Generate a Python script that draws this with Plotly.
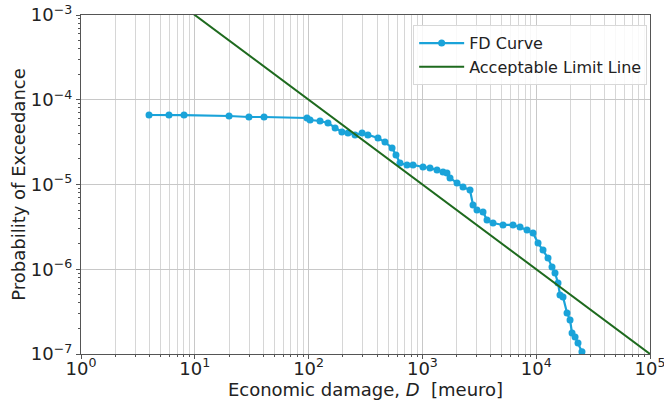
import plotly.graph_objects as go

# FD curve (economic damage [meuro], probability of exceedance)
fd_damage = [3.96, 5.93, 8.04, 20.0, 29.9, 40.6, 96.8, 103, 126, 148, 171, 196, 222, 256, 295,
             332, 407, 469, 541, 586, 635, 732, 827, 1012, 1166, 1344, 1517, 1644, 1749, 2015,
             2275, 2620, 2785, 3018, 3410, 3698, 4172, 5108, 6252, 7208, 8300, 9378, 10380,
             11480, 12700, 13770, 14630, 15550, 16190, 17210, 18660, 19830, 20650, 21950,
             23300, 25240, 27400]
fd_prob = [6.61e-5, 6.6e-5, 6.6e-5, 6.43e-5, 6.26e-5, 6.26e-5, 6.09e-5, 5.77e-5, 5.61e-5,
           5.32e-5, 4.64e-5, 4.16e-5, 4.05e-5, 3.84e-5, 4.05e-5, 3.84e-5, 3.54e-5, 3.17e-5,
           2.70e-5, 2.23e-5, 1.79e-5, 1.70e-5, 1.70e-5, 1.61e-5, 1.57e-5, 1.48e-5, 1.40e-5,
           1.37e-5, 1.19e-5, 1.04e-5, 9.34e-6, 8.61e-6, 5.73e-6, 5.00e-6, 4.74e-6, 3.81e-6,
           3.51e-6, 3.33e-6, 3.33e-6, 3.15e-6, 2.91e-6, 2.68e-6, 2.04e-6, 1.69e-6, 1.36e-6,
           1.06e-6, 9.04e-7, 6.89e-7, 4.97e-7, 4.71e-7, 3.05e-7, 2.52e-7, 1.77e-7, 1.59e-7,
           1.35e-7, 1.06e-7, 7.5e-8]

# Acceptable limit line: P = 0.01 / D
limit_damage = [1, 1e5]
limit_prob = [1e-2, 1e-7]

x_ticks = [1, 10, 100, 1000, 10000, 100000]
x_labels = ["10<sup>0</sup>", "10<sup>1</sup>", "10<sup>2</sup>", "10<sup>3</sup>",
            "10<sup>4</sup>", "10<sup>5</sup>"]
y_ticks = [1e-7, 1e-6, 1e-5, 1e-4, 1e-3]
y_labels = ["10<sup>−7</sup>", "10<sup>−6</sup>", "10<sup>−5</sup>", "10<sup>−4</sup>",
            "10<sup>−3</sup>"]

x_minor = [m * 10 ** e for e in range(0, 5) for m in range(2, 10)]
y_minor = [m * 10.0 ** e for e in range(-7, -3) for m in range(2, 10)]

font = "DejaVu Sans, sans-serif"
axis_col = "#555555"

fig = go.Figure()
fig.add_trace(go.Scatter(
    x=fd_damage, y=fd_prob, mode="lines+markers", name="FD Curve",
    line=dict(color="#1aa3d9", width=2.2),
    marker=dict(color="#1aa3d9", size=7),
))
fig.add_trace(go.Scatter(
    x=limit_damage, y=limit_prob, mode="lines", name="Acceptable Limit Line",
    line=dict(color="#1e6a1e", width=2),
))

fig.update_layout(
    width=664, height=404,
    margin=dict(l=81, r=14, t=15, b=50, autoexpand=False),
    paper_bgcolor="white", plot_bgcolor="white",
    font=dict(family=font, size=16, color="#222222"),
    showlegend=True,
    legend=dict(x=0.995, y=0.97, xanchor="right", yanchor="top",
                bgcolor="rgba(255,255,255,0.85)", bordercolor="#d8d8d8", borderwidth=1,
                font=dict(size=16), tracegroupgap=0, itemwidth=45),
)
fig.update_xaxes(
    type="log", range=[0, 5], tickvals=x_ticks, ticktext=x_labels,
    showgrid=True, gridcolor="#c8c8c8", gridwidth=1,
    minor=dict(tickvals=x_minor, showgrid=True, gridcolor="#d6d6d6", gridwidth=1,
               ticks="outside", ticklen=2, tickcolor=axis_col),
    ticks="outside", ticklen=4, tickcolor=axis_col,
    showline=True, linecolor=axis_col, linewidth=1.3, mirror=True,
    tickfont=dict(size=18), automargin=False, ticklabeloverflow="allow",
    ticklabelstandoff=-6,
    title=dict(text="Economic damage, <i>D</i>  [meuro]", font=dict(size=18), standoff=0),
    zeroline=False,
)
fig.update_yaxes(
    type="log", range=[-7, -3], tickvals=y_ticks, ticktext=y_labels,
    showgrid=True, gridcolor="#c8c8c8", gridwidth=1,
    minor=dict(tickvals=y_minor, showgrid=False, ticks="outside", ticklen=2, tickcolor=axis_col),
    ticks="outside", ticklen=4, tickcolor=axis_col,
    showline=True, linecolor=axis_col, linewidth=1.3, mirror=True,
    tickfont=dict(size=18), automargin=False, ticklabeloverflow="allow",
    title=dict(text="Probability of Exceedance", font=dict(size=18), standoff=0),
    zeroline=False,
)

fig.write_html("out.html", config={"displayModeBar": False},
               post_script="document.body.style.margin='0px';")
